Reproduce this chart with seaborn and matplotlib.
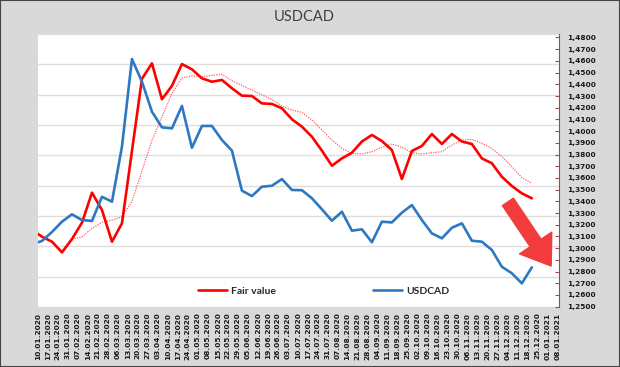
import numpy as np
import pandas as pd
import seaborn as sns
import matplotlib.pyplot as plt
import matplotlib.dates as mdates
from matplotlib.patches import FancyArrowPatch, Rectangle
from matplotlib.ticker import MultipleLocator, FuncFormatter

## Données (hebdo, points le lundi, étiquettes le vendredi)
debut_donnees = "2020-01-06"
debut_etiquettes = "2020-01-10"
nb_etiquettes = 53
debut_mm = 4  # la moyenne mobile commence à la 5e semaine

usdcad = [1.3035, 1.3061, 1.3138, 1.3226, 1.3289, 1.3240, 1.3232, 1.3439, 1.3397, 1.3867,
          1.4616, 1.4422, 1.4166, 1.4032, 1.4024, 1.4215, 1.3858, 1.4044, 1.4044, 1.3924,
          1.3833, 1.3491, 1.3445, 1.3525, 1.3533, 1.3590, 1.3497, 1.3495, 1.3426, 1.3332,
          1.3234, 1.3311, 1.3149, 1.3161, 1.3050, 1.3226, 1.3220, 1.3303, 1.3368, 1.3240,
          1.3126, 1.3084, 1.3174, 1.3212, 1.3063, 1.3055, 1.2984, 1.2841, 1.2785, 1.2699,
          1.2836]

fair_value = [1.3155, 1.3098, 1.3055, 1.2964, 1.3078, 1.3217, 1.3474, 1.3326, 1.3055, 1.3212,
              1.3830, 1.4447, 1.4579, 1.4272, 1.4387, 1.4573, 1.4528, 1.4451, 1.4422, 1.4437,
              1.4366, 1.4303, 1.4300, 1.4237, 1.4232, 1.4195, 1.4101, 1.4038, 1.3952, 1.3833,
              1.3704, 1.3767, 1.3815, 1.3911, 1.3967, 1.3915, 1.3838, 1.3591, 1.3830, 1.3873,
              1.3975, 1.3890, 1.3975, 1.3911, 1.3890, 1.3767, 1.3725, 1.3610, 1.3531, 1.3468,
              1.3426]

fair_value_mm = [1.3078, 1.3095, 1.3170, 1.3220, 1.3240, 1.3268, 1.3400, 1.3660, 1.3920, 1.4120,
                 1.4323, 1.4455, 1.4471, 1.4465, 1.4477, 1.4485, 1.4430, 1.4390, 1.4350, 1.4310,
                 1.4270, 1.4215, 1.4180, 1.4160, 1.4095, 1.4009, 1.3924, 1.3853, 1.3810, 1.3804,
                 1.3824, 1.3862, 1.3890, 1.3862, 1.3815, 1.3804, 1.3815, 1.3824, 1.3881, 1.3924,
                 1.3930, 1.3896, 1.3853, 1.3781, 1.3696, 1.3602, 1.3554]

dates_donnees = pd.date_range(debut_donnees, periods=len(usdcad), freq="7D")
dates_etiquettes = pd.date_range(debut_etiquettes, periods=nb_etiquettes, freq="7D")
etiquettes = [d.strftime("%d.%m.%Y") for d in dates_etiquettes]

df = pd.DataFrame({"Date": dates_donnees, "USDCAD": usdcad, "Fair value": fair_value})
df_mm = pd.DataFrame({"Date": dates_donnees[debut_mm:], "Moyenne": fair_value_mm})

## Style
sns.set_style("white")
plt.rcParams['font.family'] = ['DejaVu Sans']
plt.rcParams['font.weight'] = 'bold'

fig = plt.figure(figsize=(6.2, 3.67), dpi=100, facecolor="#d9d9d9")
ax = fig.add_axes([0.0608, 0.1635, 0.8408, 0.7439])
ax.set_facecolor("white")
ax2 = ax.twinx()

# quadrillage (axe gauche caché)
ax.set_ylim(0, 9)
ax.set_yticks(range(10))
ax.yaxis.grid(True, color="#dedede", lw=1)
ax.xaxis.grid(False)
ax.tick_params(axis="y", left=False, labelleft=False)

# courbes
sns.lineplot(data=df_mm, x="Date", y="Moyenne", ax=ax2, color="#ff6060", lw=0.9,
             linestyle=(0, (1, 1)), label="_nolegend_")
sns.lineplot(data=df, x="Date", y="Fair value", ax=ax2, color="#ff0000", lw=1.9, label="Fair value")
sns.lineplot(data=df, x="Date", y="USDCAD", ax=ax2, color="#2e78c2", lw=1.9, label="USDCAD")

ax2.set_xlim(mdates.date2num(pd.Timestamp("2020-01-10")), mdates.date2num(pd.Timestamp("2021-01-09")))
ax2.set_ylim(1.2497, 1.483)
ax2.yaxis.set_major_locator(MultipleLocator(0.01))
ax2.yaxis.set_major_formatter(FuncFormatter(lambda v, p: f"{v:.4f}".replace(".", ",")))
ax2.tick_params(axis="y", direction="in", length=3, width=0.8, color="#9b4b4b",
                labelsize=5.3, pad=6, labelcolor="#1a1a1a")
ax2.set_ylabel("")
ax2.set_xlabel("")

ax.set_xticks(mdates.date2num(dates_etiquettes))
ax.set_xticklabels(etiquettes, rotation=90, fontsize=5.3, color="#1a1a1a")
ax.tick_params(axis="x", length=0, pad=4)
ax.set_xlabel("")

for s in ["top", "left", "bottom", "right"]:
    ax.spines[s].set_visible(False)
for s in ["top", "left", "bottom"]:
    ax2.spines[s].set_visible(False)
ax2.spines["right"].set_color("#9b4b4b")
ax2.spines["right"].set_linewidth(0.8)

ax2.legend(loc="center", bbox_to_anchor=(0.548, 0.057), ncol=2, frameon=False,
           handlelength=2.8, handletextpad=0.4, columnspacing=9.3,
           prop={"family": "Lato", "weight": "bold", "size": 7.5}, labelcolor="#262626")

# flèche rouge
fleche = FancyArrowPatch((0.902, 0.385), (0.985, 0.15), transform=ax2.transAxes,
                         arrowstyle="simple,head_length=1.25,head_width=1.75,tail_width=0.6",
                         mutation_scale=16, color="#f23c3c", shrinkA=0, shrinkB=0)
ax2.add_patch(fleche)

fig.text(0.49, 1 - 17 / 367, "USDCAD", ha="center", va="center", fontsize=10.5,
         color="#404040", fontweight="normal", family="Lato")
fig.patches.append(Rectangle((0, 0), 1, 1, transform=fig.transFigure, fill=False,
                             edgecolor="#444444", lw=1.5))

fig.savefig("out.png", dpi=100, facecolor=fig.get_facecolor())
